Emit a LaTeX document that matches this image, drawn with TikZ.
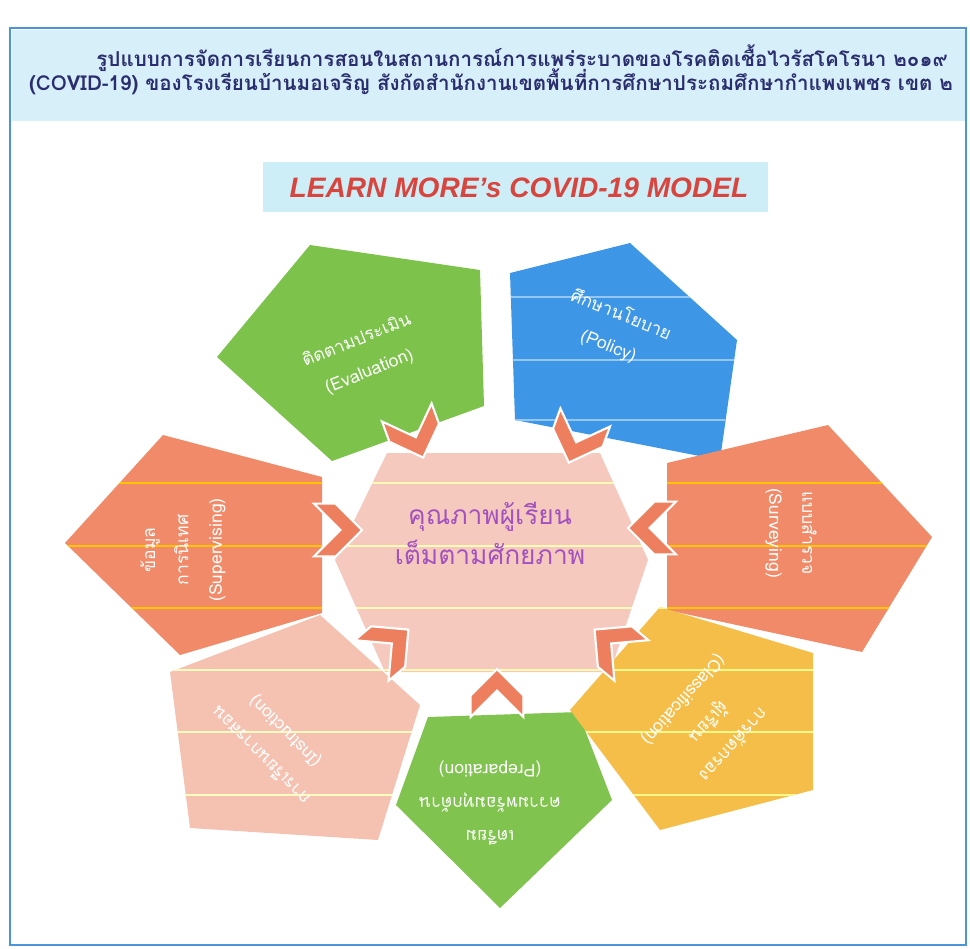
\documentclass[tikz,border=0pt]{standalone}
\usepackage{fontspec}
\setmainfont{Liberation Sans}
\newfontfamily\thaifont[Script=Thai]{Loma}
\usepackage{tikz}

\definecolor{frameblue}{HTML}{4B95DB}
\definecolor{bandcyan}{HTML}{D6EFF8}
\definecolor{bannercyan}{HTML}{CDEEF7}
\definecolor{titleink}{HTML}{2A2D6E}
\definecolor{evalgreen}{HTML}{7CC24B}
\definecolor{prepgreen}{HTML}{80C34E}
\definecolor{policyblue}{HTML}{3D97E6}
\definecolor{salmon}{HTML}{F08A68}
\definecolor{instpink}{HTML}{F5C2B2}
\definecolor{classyellow}{HTML}{F5BE48}
\definecolor{corepink}{HTML}{F6C9BF}
\definecolor{coreink}{HTML}{A152BE}
\definecolor{chevfill}{HTML}{EE7F5E}
\definecolor{bannerred}{HTML}{D8443E}

% petal outlines (pixel grid of the page)
\def\evalshape{(310,245) -- (480,270) -- (484,406) -- (332,461) -- (217,357) -- cycle}
\def\policyshape{(510,273) -- (630,243) -- (737,340) -- (720,460) -- (515,420) -- cycle}
\def\supershape{(163,435) -- (322,477) -- (322,613) -- (180,655) -- (65,543) -- cycle}
\def\surveyshape{(667,463) -- (828,425) -- (932,537) -- (862,652) -- (667,610) -- cycle}
\def\instrshape{(320,615) -- (420,705) -- (378,840) -- (190,828) -- (170,672) -- cycle}
\def\prepshape{(428,717) -- (578,712) -- (612,800) -- (500,908) -- (396,805) -- cycle}
\def\classshape{(660,607) -- (813,653) -- (813,790) -- (660,830) -- (570,710) -- cycle}
\def\coreshape{(387,453) -- (600,453) -- (648,560) -- (610,672) -- (385,672) -- (335,560) -- cycle}

\begin{document}
\begin{tikzpicture}
        [%%%%%%%%%%%%%%%%%%%%%%%%%%%%%%
        x=0.02cm, y=-0.02cm,
        petal/.style={text=white, align=center, font=\thaifont\fontsize{10}{19}\selectfont},
        titleline/.style={text=titleink, font=\thaifont\bfseries\fontsize{11.7}{14}\selectfont},
        stripe/.style={line width=1.2pt},
        chev/.style={fill=chevfill, draw=white, line width=1.2pt},
        ]%%%%%%%%%%%%%%%%%%%%%%%%%%%%%%
        \useasboundingbox (0,0) rectangle (970,948);
        % Frame and title band
        \fill[bandcyan] (12,30) rectangle (965,121);
        \draw[frameblue, line width=1.6pt] (10,28) rectangle (966,945);
        \node[titleline] (title1) at (522,58)
          {รูปแบบการจัดการเรียนการสอนในสถานการณ์การแพร่ระบาดของโรคติดเชื้อไวรัสโคโรนา ๒๐๑๙};
        \node[titleline] (title2) at (491,82)
          {(COVID-19) ของโรงเรียนบ้านมอเจริญ สังกัดสำนักงานเขตพื้นที่การศึกษาประถมศึกษากำแพงเพชร เขต ๒};
        % Banner
        \fill[bannercyan] (263,162) rectangle (768,212);
        \node[bannerred, font=\bfseries\itshape\fontsize{16}{19}\selectfont] (banner) at (519,188)
          {LEARN MORE's COVID-19 MODEL};

        % Petals
        \fill[evalgreen] \evalshape;
        \fill[policyblue] \policyshape;
        \fill[salmon] \supershape;
        \fill[salmon] \surveyshape;
        \fill[instpink] \instrshape;
        \fill[prepgreen] \prepshape;
        \fill[classyellow] \classshape;
        \fill[corepink] \coreshape;
        % Stripes
        \foreach \shp/\col in {\policyshape/policyblue!55!white, \supershape/orange!45!yellow,
            \surveyshape/orange!45!yellow, \instrshape/yellow!25!white,
            \classshape/yellow!45!white, \coreshape/yellow!30!white}{
          \begin{scope}
            \clip \shp;
            \foreach \y in {297,360,420,483,546,608,670,732,795}{
              \draw[stripe, \col] (0,\y) -- (970,\y);
            }
          \end{scope}
        }
        % Arrows toward the core
        \foreach \cx/\cy/\ang in {415/435/-70, 577/440/-110, 338/530/0, 652/528/180,
            390/645/40, 613/645/140, 497/693/90}{
          \filldraw[chev, shift={(\cx,\cy)}, rotate=\ang, scale=1.2]
            (-2,22) -- (20,0) -- (-2,-22) -- (-20,-22) -- (2,0) -- (-20,22) -- cycle;
        }

        % Text
        \node[coreink, align=center, font=\thaifont\fontsize{15}{22.7}\selectfont] (core) at (490,533)
          {คุณภาพผู้เรียน\\เต็มตามศักยภาพ};
        \node[petal, rotate=22] (eval) at (363,356) {ติดตามประเมิน\\(Evaluation)};
        \node[petal, rotate=-22] (policy) at (615,330) {ศึกษานโยบาย\\(Policy)};
        \node[petal, rotate=90] (super) at (183,550) {ข้อมูล\\การนิเทศ\\(Supervising)};
        \node[petal, rotate=-90] (survey) at (791,533) {แบบสำรวจ\\(Surveying)};
        \node[petal, rotate=135] (instr) at (273,743) {การเรียนการสอน\\(Instruction)};
        \node[petal, rotate=180] (prep) at (490,803) {เตรียม\\ความพร้อมทุกด้าน\\(Preparation)};
        \node[petal, rotate=-132] (classif) at (708,722) {การคัดกรอง\\ผู้เรียน\\(Classification)};
      \end{tikzpicture}
\end{document}
